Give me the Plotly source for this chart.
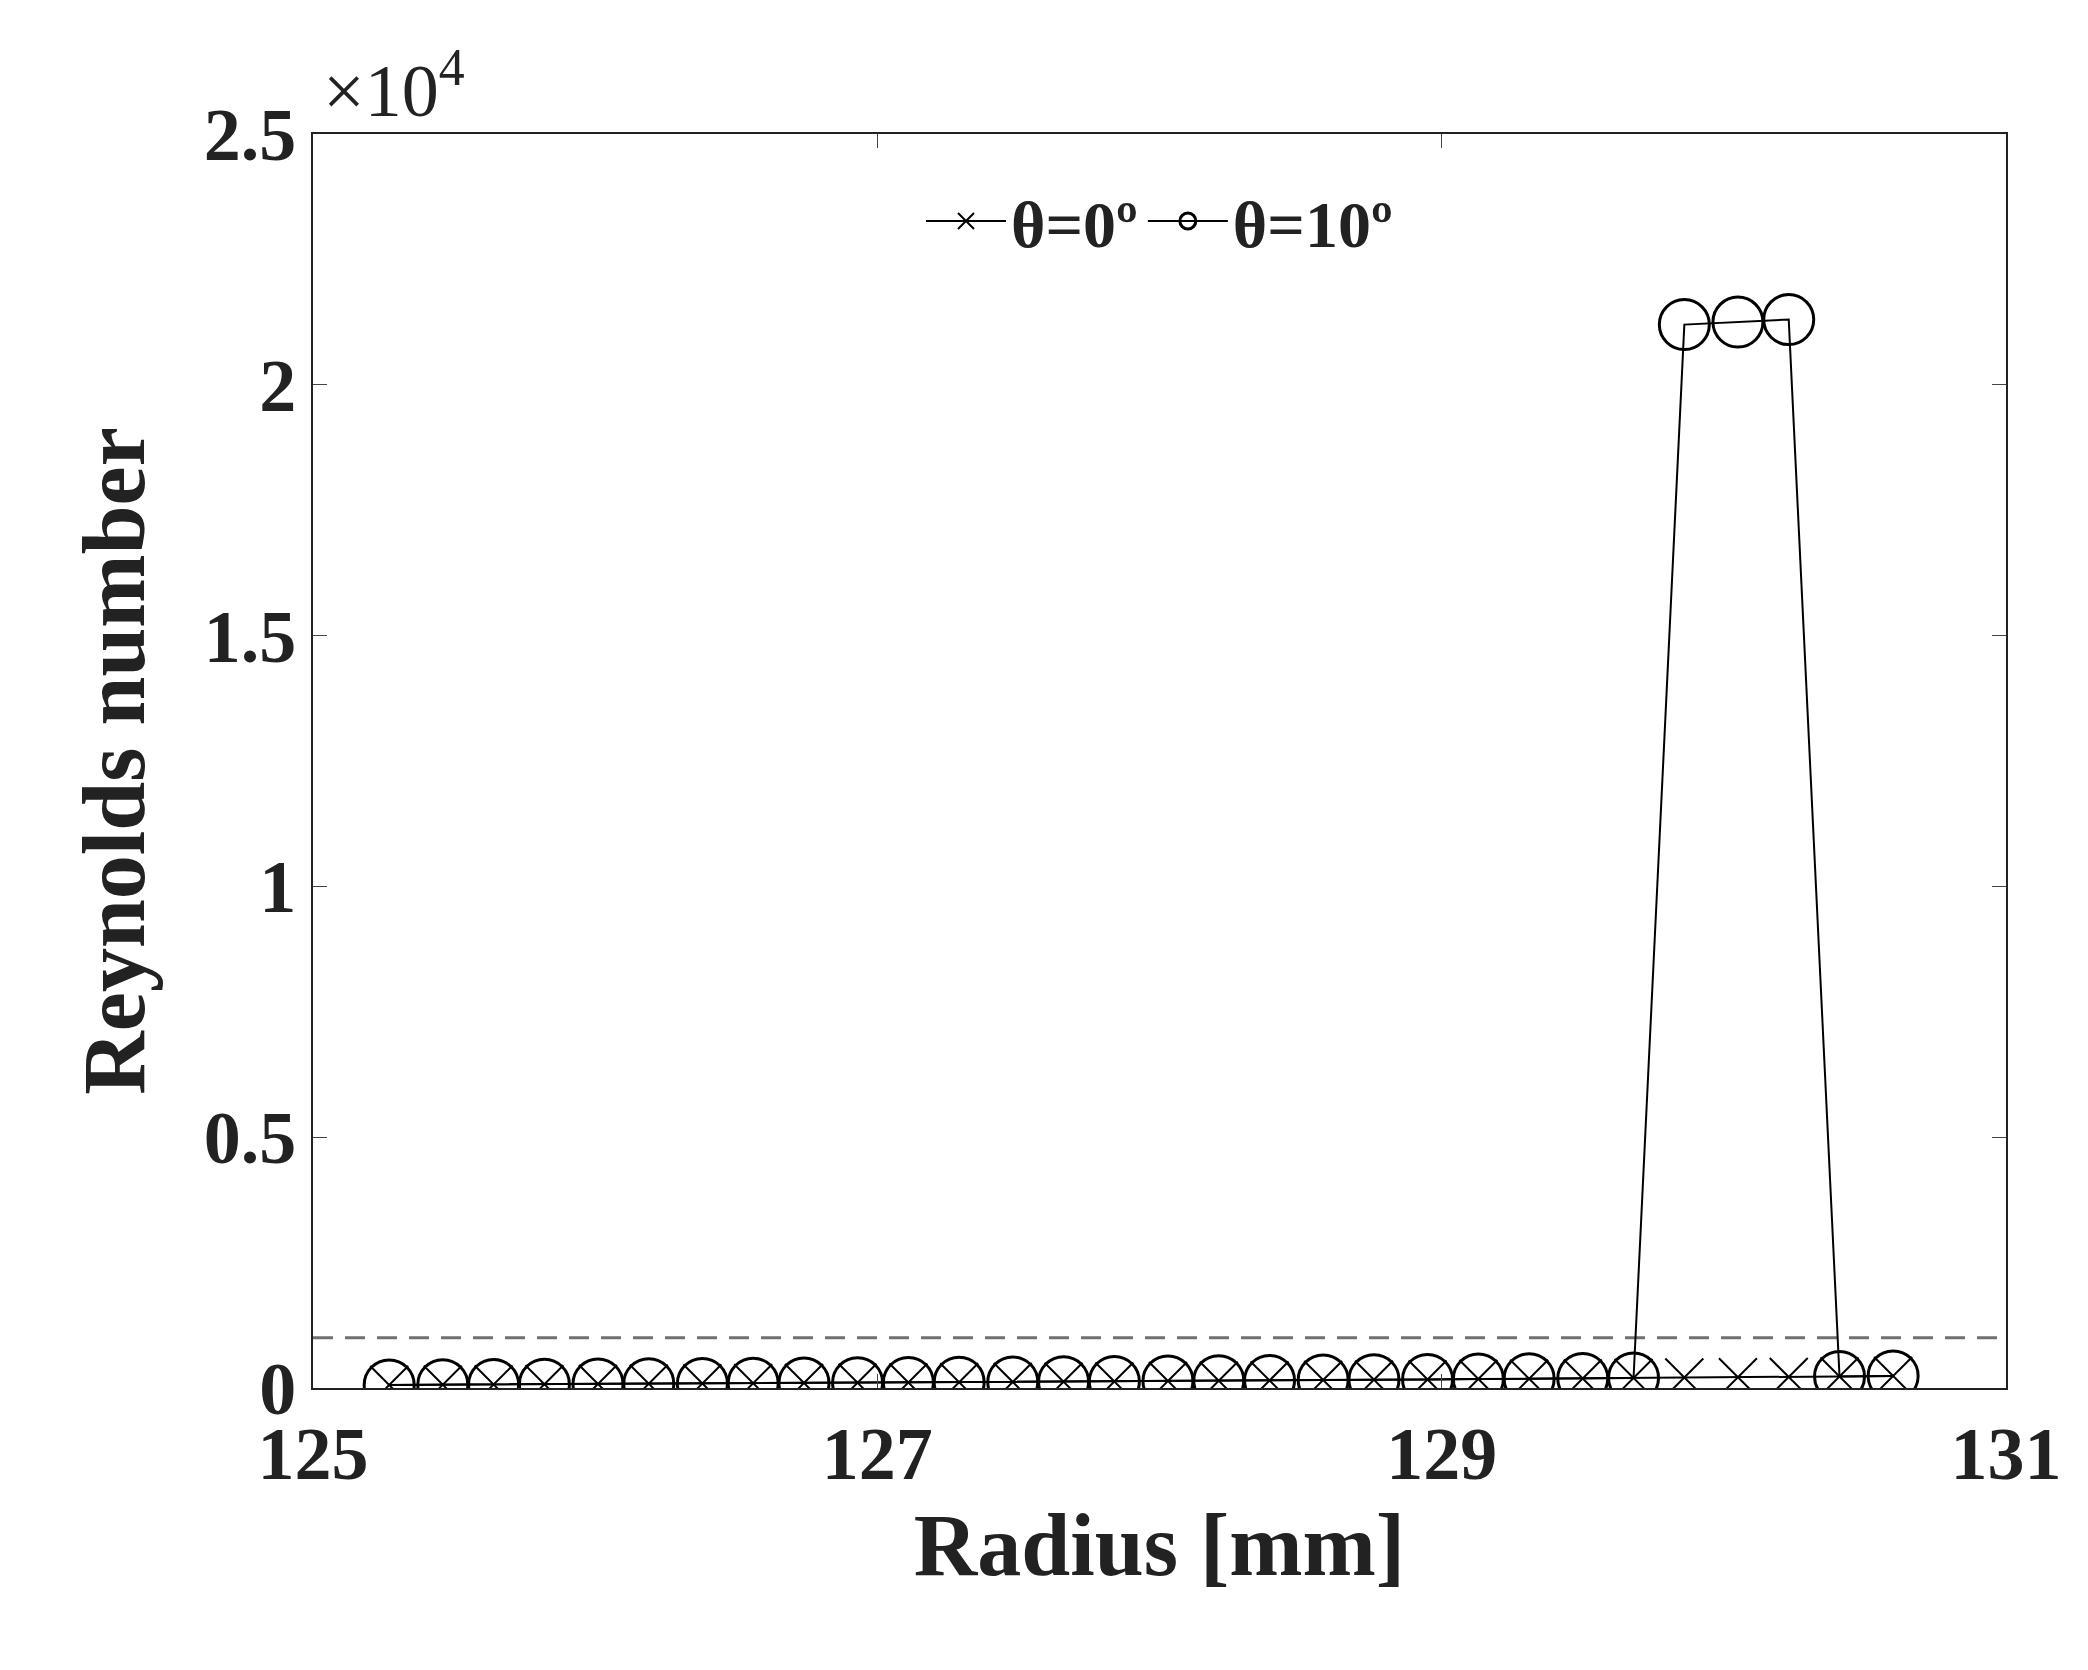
import plotly.graph_objects as go

radius = [125.27,125.46,125.64,125.82,126.01,126.19,126.38,126.56,126.74,126.93,
          127.11,127.29,127.48,127.66,127.84,128.03,128.21,128.39,128.58,128.76,
          128.95,129.13,129.31,129.50,129.68,129.86,130.05,130.23,130.41,130.60]
re_0 = [60,65,70,75,80,85,90,95,100,105,110,115,120,125,130,140,145,150,160,165,
        170,180,185,190,200,210,215,220,230,240]
re_10 = [60,65,70,75,80,85,90,95,100,105,110,115,120,125,130,140,145,150,160,165,
         170,180,185,190,200,21200,21250,21300,230,240]
threshold = 1000
yticks = [0,5000,10000,15000,20000,25000]
yticklabels = ["0","0.5","1","1.5","2","2.5"]
xticks = [125,127,129,131]

F = "Liberation Serif"
fig = go.Figure()
fig.add_trace(go.Scatter(x=[125,131], y=[threshold,threshold], mode="lines",
    line=dict(color="#707070", width=3, dash="20px,12px"), showlegend=False))
fig.add_trace(go.Scatter(x=radius, y=re_0, mode="lines+markers", name="θ=0º",
    line=dict(color="black", width=2),
    marker=dict(symbol="x-thin-open", size=38, line=dict(color="black", width=2))))
fig.add_trace(go.Scatter(x=radius, y=re_10, mode="lines+markers", name="θ=10º",
    line=dict(color="black", width=2),
    marker=dict(symbol="circle-open", size=50, color="black", line=dict(color="black", width=3))))
fig.update_layout(
    width=2088, height=1670, plot_bgcolor="white", paper_bgcolor="white",
    margin=dict(l=305, r=90, t=126, b=290),
    font=dict(family=F, color="#222", size=70),
    legend=dict(orientation="h", x=0.5, xanchor="center", y=0.97, yanchor="top",
                font=dict(size=66, family=F, weight="bold"), bgcolor="rgba(0,0,0,0)",
                itemwidth=80),
    xaxis=dict(range=[125,131], tickvals=xticks, ticks="inside", ticklen=14,
               mirror="ticks", showline=True, linecolor="#222", linewidth=2,
               showgrid=False, zeroline=False,
               tickfont=dict(size=74, family=F, weight="bold"),
               title=dict(text="<b>Radius [mm]</b>", font=dict(size=88, family=F), standoff=20)),
    yaxis=dict(range=[0,25000], tickvals=yticks, ticktext=yticklabels, ticks="inside",
               ticklen=14, mirror="ticks", showline=True, linecolor="#222", linewidth=2,
               showgrid=False, zeroline=False,
               tickfont=dict(size=74, family=F, weight="bold"),
               title=dict(text="<b>Reynolds number</b>", font=dict(size=88, family=F), standoff=30)),
)
fig.add_annotation(text="×10<sup>4</sup>", xref="paper", yref="paper", x=0.005, y=1.0,
    xanchor="left", yanchor="bottom", showarrow=False, font=dict(size=74, family=F))
fig.write_html("out.html")
